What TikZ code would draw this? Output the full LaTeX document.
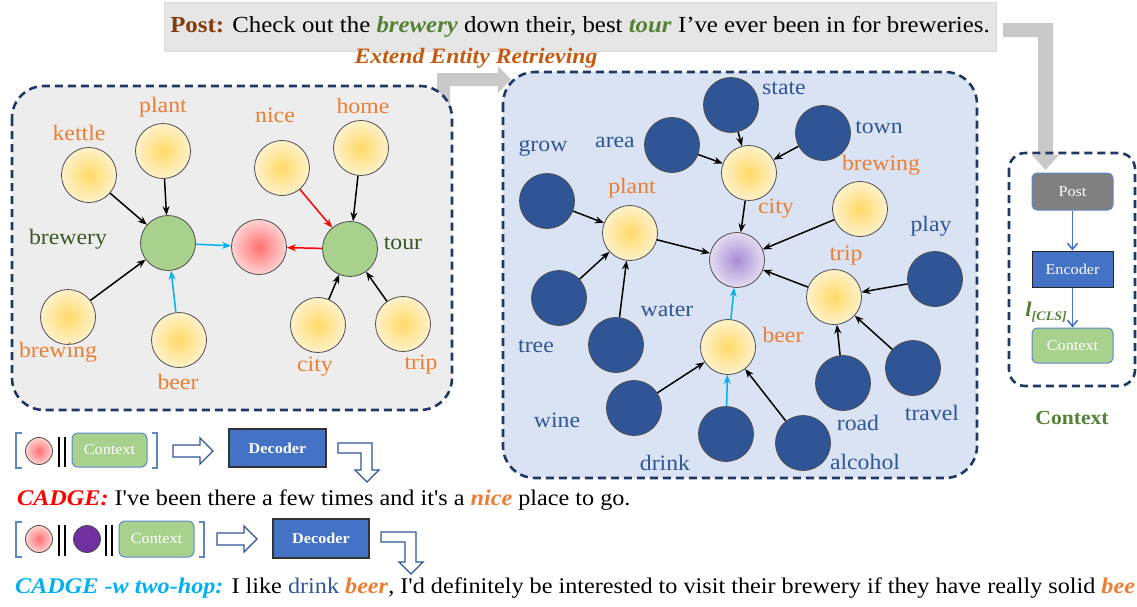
\documentclass[tikz,border=0pt]{standalone}
\usepackage{fontspec}
\setmainfont{Liberation Serif}[FakeStretch=1.08, Ligatures=TeXOff]
\usetikzlibrary{arrows.meta}
\definecolor{orng}{HTML}{ED7D31}
\definecolor{dblue}{HTML}{2F5597}
\definecolor{navy}{HTML}{1F3864}
\definecolor{dgreen}{HTML}{385723}
\definecolor{mgreen}{HTML}{548235}
\definecolor{lgreen}{HTML}{A9D18E}
\definecolor{boxblue}{HTML}{4472C4}
\definecolor{edgeblue}{HTML}{5B87C9}
\definecolor{brwn}{HTML}{843C0C}
\definecolor{cyanl}{HTML}{00B0F0}
\definecolor{ggray}{HTML}{C9C9C9}
\definecolor{postgray}{HTML}{E7E6E6}
\definecolor{ltgray}{HTML}{EDEDED}
\definecolor{ltblue}{HTML}{DAE3F3}
\definecolor{yin}{HTML}{FFD966}
\definecolor{yout}{HTML}{FFF2CC}
\definecolor{rin}{HTML}{FF7070}
\definecolor{rout}{HTML}{FFD3D3}
\definecolor{pin}{HTML}{A88CD6}
\definecolor{pout}{HTML}{E4DCF0}
\definecolor{purp}{HTML}{7030A0}
\definecolor{eretr}{HTML}{C55A11}
\tikzset{
  panel/.style={draw=navy, line width=2.6pt, dash pattern=on 8pt off 5pt, rounded corners=32pt},
  ent/.style={circle, minimum size=55pt, inner sep=0pt, draw=black!70, line width=0.8pt},
  yel/.style={ent, inner color=yin, outer color=yout},
  dk/.style={ent, fill=dblue},
  grn/.style={ent, fill=lgreen},
  lab/.style={font=\fontsize{22}{24}\selectfont, inner sep=0pt},
  olab/.style={lab, text=orng},
  blab/.style={lab, text=dblue},
  glab/.style={lab, text=dgreen},
  arr/.style={-{Stealth[length=9pt,width=7pt]}, line width=1.5pt},
  cyarr/.style={arr, draw=cyanl},
  rdarr/.style={arr, draw=red},
  bluearr/.style={-{Straight Barb[length=6pt,width=10pt]}, line width=1.6pt, draw=boxblue},
  hollow/.style={draw=dblue, fill=white, line width=1.3pt, line join=miter},
  brk/.style={draw=edgeblue, line width=1.5pt},
  bar/.style={draw=black, line width=1.5pt},
  smallctx/.style={draw=edgeblue, fill=lgreen, rounded corners=6pt, line width=1pt, text=white, font=\fontsize{15}{16}\selectfont, inner sep=0pt},
  dec/.style={draw=black!80, fill=boxblue, line width=1.2pt, text=white, font=\fontsize{15}{16}\selectfont\bfseries, inner sep=0pt},
  sbox/.style={rounded corners=5pt, line width=1pt, text=white, font=\fontsize{15}{16}\selectfont, inner sep=0pt, minimum width=81pt}
}
\begin{document}
\begin{tikzpicture}[x=1pt,y=-1pt]
\useasboundingbox (0,0) rectangle (1137,606);

% gray arrows
\fill[ggray] (437,130) -- (437,73) -- (498,73) -- (498,66) -- (511,79.5) -- (498,93) -- (498,86) -- (450,86) -- (450,130) -- cycle;
\fill[ggray] (1003,23) -- (1053,23) -- (1053,155) -- (1059,155) -- (1045.5,170) -- (1032,155) -- (1038,155) -- (1038,37) -- (1003,37) -- cycle;

% post
\node[fill=postgray, draw=black!15, minimum width=832pt, minimum height=49pt, inner sep=0pt, font=\fontsize{23}{26}\selectfont] (post) at (580,26.5)
  {\textcolor{brwn}{\textbf{Post:}} Check out the \textcolor{mgreen}{\textbf{\textit{brewery}}} down their, best \textcolor{mgreen}{\textbf{\textit{tour}}} I’ve ever been in for breweries.};
\node[font=\fontsize{22}{24}\selectfont\bfseries\itshape, text=eretr, inner sep=0pt] (ext) at (476,58) {Extend Entity Retrieving};

% panels
\draw[panel, fill=ltgray] (12,86) rectangle (452,410);
\draw[panel, fill=ltblue] (503,72) rectangle (977,478);
\draw[panel, rounded corners=16pt] (1009,153) rectangle (1135,386);

% ---------------- left panel
\node[yel] (kettle) at (89,175) {};
\node[yel] (plant) at (163,151) {};
\node[grn] (brewery) at (168,243) {};
\node[yel] (brewing) at (68,317) {};
\node[yel] (beer) at (179,340) {};
\node[ent, inner color=rin, outer color=rout] (red) at (259,247) {};
\node[yel] (nice) at (282,168) {};
\node[yel] (home) at (361,148) {};
\node[grn] (tour) at (350,249) {};
\node[yel] (city) at (318,325) {};
\node[yel] (trip) at (403,324) {};

\node[olab] (lkettle) at (79,133) {kettle};
\node[olab] (lplant) at (163,107) {plant};
\node[glab] (lbrewery) at (68,239) {brewery};
\node[olab] (lbrewing) at (58,352) {brewing};
\node[olab] (lbeer) at (178,382) {beer};
\node[olab] (lnice) at (275,115) {nice};
\node[olab] (lhome) at (363,106) {home};
\node[glab] (ltour) at (403,243) {tour};
\node[olab] (lcity) at (315,367) {city};
\node[olab] (ltrip) at (421,365) {trip};

\draw[arr] (kettle) -- (brewery);
\draw[arr] (plant) -- (brewery);
\draw[arr] (brewing) -- (brewery);
\draw[cyarr] (beer) -- (brewery);
\draw[cyarr] (brewery) -- (red);
\draw[rdarr] (nice) -- (tour);
\draw[arr] (home) -- (tour);
\draw[rdarr] (tour) -- (red);
\draw[arr] (city) -- (tour);
\draw[arr] (trip) -- (tour);

% ---------------- middle panel
\node[dk] (mstate) at (731,105) {};
\node[dk] (mtown) at (823,133) {};
\node[dk] (marea) at (672,145) {};
\node[yel] (mcity) at (749,173) {};
\node[dk] (mgrow) at (547,201) {};
\node[yel] (mplant) at (630,233) {};
\node[yel] (mbrewing) at (860,209) {};
\node[ent, inner color=pin, outer color=pout] (mcenter) at (737,260) {};
\node[dk] (mplay) at (935,279) {};
\node[yel] (mtrip) at (834,297) {};
\node[dk] (mtree) at (559,298) {};
\node[dk] (mwater) at (616,345) {};
\node[yel] (mbeer) at (728,347) {};
\node[dk] (mroad) at (843,383) {};
\node[dk] (mtravel) at (913,368) {};
\node[dk] (mwine) at (634,408) {};
\node[dk] (mdrink) at (726,434) {};
\node[dk] (malcohol) at (803,443) {};

\node[blab] (lstate) at (784,88) {state};
\node[blab] (ltown) at (879,127) {town};
\node[blab] (larea) at (615,142) {area};
\node[olab] (lmcity) at (776,209) {city};
\node[blab] (lgrow) at (543,148) {grow};
\node[olab] (lmplant) at (632,188) {plant};
\node[olab] (lmbrewing) at (881,165) {brewing};
\node[blab] (lplay) at (931,226) {play};
\node[olab] (lmtrip) at (846,256) {trip};
\node[blab] (ltree) at (536,346) {tree};
\node[blab] (lwater) at (667,310) {water};
\node[olab] (lmbeer) at (783,335) {beer};
\node[blab] (lroad) at (858,423) {road};
\node[blab] (ltravel) at (932,413) {travel};
\node[blab] (lwine) at (557,420) {wine};
\node[blab] (ldrink) at (665,463) {drink};
\node[blab] (lalcohol) at (865,462) {alcohol};

\draw[arr] (mstate) -- (mcity);
\draw[arr] (mtown) -- (mcity);
\draw[arr] (marea) -- (mcity);
\draw[arr] (mcity) -- (mcenter);
\draw[arr] (mgrow) -- (mplant);
\draw[arr] (mtree) -- (mplant);
\draw[arr] (mwater) -- (mplant);
\draw[arr] (mplant) -- (mcenter);
\draw[arr] (mbrewing) -- (mcenter);
\draw[arr] (mplay) -- (mtrip);
\draw[arr] (mroad) -- (mtrip);
\draw[arr] (mtravel) -- (mtrip);
\draw[arr] (mtrip) -- (mcenter);
\draw[arr] (mwine) -- (mbeer);
\draw[cyarr] (mdrink) -- (mbeer);
\draw[arr] (malcohol) -- (mbeer);
\draw[cyarr] (mbeer) -- (mcenter);

% ---------------- right context panel
\node[sbox, draw=edgeblue, fill=black!50, minimum height=37pt] (cpost) at (1072.5,191.5) {Post};
\node[sbox, rounded corners=0pt, draw=black!85, fill=boxblue, minimum height=36pt] (cenc) at (1072.5,269) {Encoder};
\node[sbox, draw=edgeblue, fill=lgreen, minimum height=35pt] (cctx) at (1072.5,345.5) {Context};
\draw[bluearr] (cpost) -- (cenc);
\draw[bluearr] (cenc) -- (cctx);
\node[text=mgreen, inner sep=0pt, anchor=east, font=\fontsize{21}{22}\selectfont\bfseries\itshape] (cls) at (1067,312) {l\raisebox{-0.35ex}{\fontsize{13}{14}\selectfont[CLS]}};
\node[text=mgreen, inner sep=0pt, font=\fontsize{20}{22}\selectfont\bfseries] (ctxlab) at (1072,418) {Context};

% ---------------- bottom row 1
\draw[brk] (22,433) -- (16,433) -- (16,468) -- (22,468);
\node[circle, minimum size=27pt, inner sep=0pt, draw=black!70, line width=0.8pt, inner color=rin, outer color=rout] (r1) at (39,451) {};
\draw[bar] (59,437) -- (59,467);
\draw[bar] (65,437) -- (65,467);
\node[smallctx, minimum width=75pt, minimum height=34pt] (ctx1) at (109.5,450) {Context};
\draw[brk] (152,433) -- (157,433) -- (157,468) -- (152,468);
\draw[hollow] (173,445) -- (200,445) -- (200,438) -- (213,451) -- (200,464) -- (200,457) -- (173,457) -- cycle;
\node[dec, minimum width=97pt, minimum height=38pt] (dec1) at (277.5,448) {Decoder};
\draw[hollow] (338,443) -- (372,443) -- (372,470) -- (379,470) -- (367,482) -- (355,470) -- (361,470) -- (361,453) -- (338,453) -- cycle;

\node[anchor=base west, inner sep=0pt, font=\fontsize{22.4}{25}\selectfont] (out1) at (17,505)
  {\textcolor{red}{\textbf{\textit{CADGE:}}} I've been there a few times and it's a \textcolor{orng}{\textbf{\textit{nice}}} place to go.};

% ---------------- bottom row 2
\draw[brk] (22,522) -- (16,522) -- (16,557) -- (22,557);
\node[circle, minimum size=27pt, inner sep=0pt, draw=black!70, line width=0.8pt, inner color=rin, outer color=rout] (r2) at (39,539) {};
\draw[bar] (59,525) -- (59,556);
\draw[bar] (65,525) -- (65,556);
\node[circle, minimum size=27pt, inner sep=0pt, draw=black!70, line width=0.8pt, fill=purp] (p2) at (87,539) {};
\draw[bar] (106,525) -- (106,556);
\draw[bar] (112,525) -- (112,556);
\node[smallctx, minimum width=75pt, minimum height=36pt] (ctx2) at (156.5,539) {Context};
\draw[brk] (199,522) -- (204,522) -- (204,557) -- (199,557);
\draw[hollow] (217,533) -- (244,533) -- (244,526) -- (257,539) -- (244,552) -- (244,545) -- (217,545) -- cycle;
\node[dec, minimum width=96pt, minimum height=39pt] (dec2) at (321,538.5) {Decoder};
\draw[hollow] (381,532) -- (416,532) -- (416,562) -- (423,562) -- (411,574) -- (399,562) -- (405,562) -- (405,542) -- (381,542) -- cycle;

\node[anchor=base west, inner sep=0pt, font=\fontsize{22.4}{25}\selectfont] (out2) at (15,593)
  {\textcolor{cyanl}{\textbf{\textit{CADGE -w two-hop:}}} I like \textcolor{dblue}{drink} \textcolor{orng}{\textbf{\textit{beer}}}, I'd definitely be interested to visit their brewery if they have really solid \textcolor{orng}{\textbf{\textit{bee}}}};
\end{tikzpicture}
\end{document}
